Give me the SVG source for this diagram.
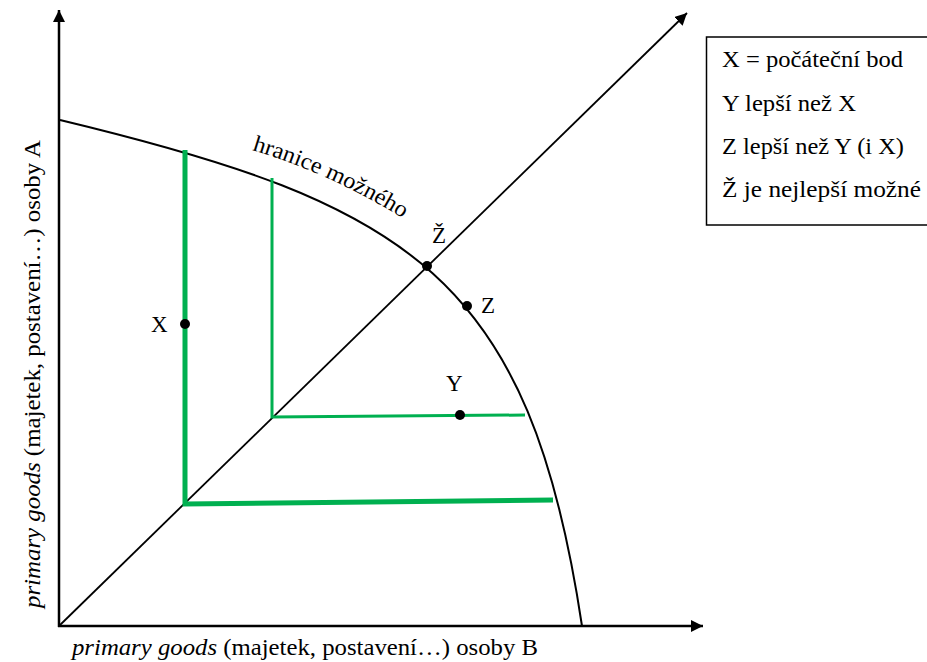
<svg xmlns="http://www.w3.org/2000/svg" width="927" height="662" viewBox="0 0 927 662">
<defs>
<marker id="arr" markerWidth="12" markerHeight="12" refX="12" refY="6" orient="auto" markerUnits="userSpaceOnUse">
<path d="M0,0 L12,6 L0,12 Z" fill="#000"/>
</marker>
<path id="hpath" d="M252,150 Q335,175 412,224"/>
<style>
text{font-family:'Liberation Serif','DejaVu Serif',serif;fill:#000}
.lbl{font-size:23px}
.leg{font-size:23px}
.axis{stroke:#000;stroke-width:2.5;fill:none}
.g{stroke:#00B050;fill:none}
.dot{fill:#000}
</style>
</defs>
<rect width="927" height="662" fill="#fff"/>
<g id="connectors">
<line class="axis" x1="59" y1="627" x2="59" y2="10" marker-end="url(#arr)"/>
<line class="axis" x1="58" y1="626" x2="703" y2="626" marker-end="url(#arr)"/>
<line x1="59" y1="626" x2="687" y2="13" stroke="#000" stroke-width="1.8" marker-end="url(#arr)"/>
</g>
<g id="frontier">
<path d="M60,120 C410,204 529.5,276 582,626" fill="none" stroke="#000" stroke-width="2"/>
<text class="lbl"><textPath href="#hpath" textLength="166" lengthAdjust="spacingAndGlyphs">hranice možného</textPath></text>
</g>
<g id="path-X">
<path class="g" stroke-width="5" d="M185,150 L185,504 L553,500"/>
</g>
<g id="path-Y">
<path class="g" stroke-width="3" d="M272,178 L272,417 L525,415"/>
</g>
<g id="point-X">
<circle class="dot" cx="185" cy="324" r="5"/>
<text class="lbl" x="151" y="332">X</text>
</g>
<g id="point-Y">
<circle class="dot" cx="460" cy="415" r="5"/>
<text class="lbl" x="446" y="391">Y</text>
</g>
<g id="point-Z">
<circle class="dot" cx="467" cy="306" r="5"/>
<text class="lbl" x="481" y="313">Z</text>
</g>
<g id="point-Zcaron">
<circle class="dot" cx="427" cy="266" r="5"/>
<text class="lbl" x="432" y="243">Ž</text>
</g>
<g id="axis-labels">
<text class="lbl" x="72" y="655" textLength="466" lengthAdjust="spacingAndGlyphs"><tspan font-style="italic">primary goods</tspan> (majetek, postavení…) osoby B</text>
<text class="lbl" transform="translate(40,608) rotate(-90)" textLength="468" lengthAdjust="spacingAndGlyphs"><tspan font-style="italic">primary goods</tspan> (majetek, postavení…) osoby A</text>
</g>
<g id="legend">
<rect x="706.5" y="37" width="222" height="188" fill="#fff" stroke="#000" stroke-width="1.5"/>
<text class="leg" x="722" y="67" textLength="181" lengthAdjust="spacingAndGlyphs">X = počáteční bod</text>
<text class="leg" x="722" y="111" textLength="134" lengthAdjust="spacingAndGlyphs">Y lepší než X</text>
<text class="leg" x="722" y="154" textLength="182" lengthAdjust="spacingAndGlyphs">Z lepší než Y (i X)</text>
<text class="leg" x="722" y="197" textLength="199" lengthAdjust="spacingAndGlyphs">Ž je nejlepší možné</text>
</g>
</svg>
